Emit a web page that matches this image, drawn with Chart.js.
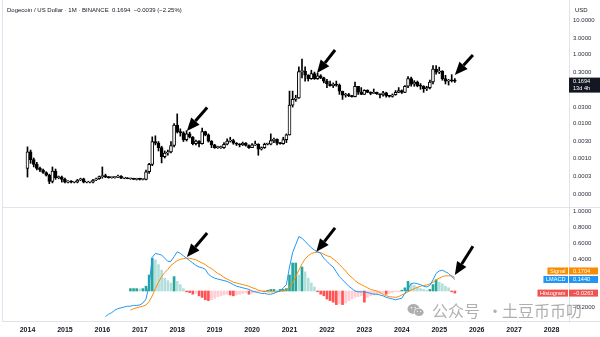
<!DOCTYPE html>
<html>
<head>
<meta charset="utf-8">
<title>Dogecoin / US Dollar 1M</title>
<script src="https://cdn.jsdelivr.net/npm/chart.js@4.4.1/dist/chart.umd.min.js"></script>
<style>
  html, body { margin: 0; padding: 0; background: #ffffff; }
  #wrap { position: relative; width: 600px; height: 337px; overflow: hidden; }
  #priceChart { position: absolute; left: 0; top: 0; }
  #macdChart { position: absolute; left: 0; top: 208px; }
  .txt { position: absolute; font-family: 'Liberation Sans', Arial, sans-serif; color: #131722; white-space: pre; }
  #title { left: 7px; top: 7px; font-size: 6px; line-height: 6px; }
  #usd { left: 575px; top: 7px; font-size: 6px; line-height: 6px; }
  .wm { position: absolute; font-family: 'Noto Sans CJK SC', sans-serif; font-size: 16px; line-height: 16px; color: rgba(110, 110, 110, 0.55); white-space: pre; }
  #wechat { position: absolute; left: 407px; top: 303px; }
</style>
</head>
<body>
<div id="wrap">
  <canvas id="priceChart" width="600" height="208"></canvas>
  <canvas id="macdChart" width="600" height="129"></canvas>
  <div id="title" class="txt"></div>
  <div id="usd" class="txt">USD</div>
  <svg id="wechat" width="18" height="15" viewBox="0 0 18 15">
    <ellipse cx="6.5" cy="6" rx="6" ry="5" fill="rgba(110,110,110,0.55)"/>
    <ellipse cx="12" cy="9.2" rx="5.2" ry="4.3" fill="#ffffff"/>
    <ellipse cx="12" cy="9.2" rx="4.6" ry="3.8" fill="rgba(110,110,110,0.55)"/>
    <circle cx="4.5" cy="4.8" r="0.8" fill="#fff"/>
    <circle cx="8.3" cy="4.8" r="0.8" fill="#fff"/>
    <circle cx="10.5" cy="8.5" r="0.6" fill="#fff"/>
    <circle cx="13.6" cy="8.5" r="0.6" fill="#fff"/>
  </svg>
  <div class="wm" style="left:432px; top:302px;">公众号</div>
  <div class="wm" style="left:487px; top:302px;">·</div>
  <div class="wm" style="left:502px; top:302px;">土豆币币叨</div>
</div>

<script>
// monthly candles, index 0 = Jan 2014
const yearLabels = ['2014', '2015', '2016', '2017', '2018', '2019', '2020', '2021',
                    '2022', '2023', '2024', '2025', '2026', '2027', '2028'];

const opens = [
  .0005, .0015, .0009, .00065, .0005, .00045, .00038, .00032, .00021, .00042, .00027, .00028,
  .00024, .0002, .00021, .0002, .0002, .00023, .00025, .0002, .0002, .0002, .00023, .00025,
  .00029, .00031, .00028, .00027, .00027, .00028, .0003, .00026, .00026, .00025, .00025, .00024,
  .00025, .00024, .00024, .0004, .00065, .003, .0027, .002, .0011, .0014, .0015, .0023,
  .009, .0058, .0054, .0034, .005, .004, .0026, .0031, .0026, .0058, .0047, .0031,
  .0024, .002, .002, .002, .0025, .0031, .0032, .0027, .0025, .0024, .0027, .0023,
  .002, .0024, .0025, .0018, .002, .0025, .0025, .0032, .0035, .0027, .0026, .0034,
  .0047, .034, .05, .055, .32, .33, .25, .2, .28, .2, .24, .21,
  .17, .14, .125, .14, .13, .086, .066, .069, .063, .06, .12, .081,
  .07, .091, .08, .075, .08, .072, .067, .078, .063, .061, .068, .08,
  .09, .08, .12, .2, .137, .16, .124, .12, .1, .11, .16, .38,
  .31, .33, .2, .17, .18, .1733
];
const highs = [
  .0021, .0017, .001, .00075, .00055, .00048, .0004, .00034, .00055, .00048, .0003, .0003,
  .00026, .00022, .00022, .00021, .00024, .00026, .00026, .00021, .00021, .00024, .00026, .0003,
  .00055, .00034, .00029, .00028, .00029, .00032, .00031, .00027, .00027, .00026, .00026, .00026,
  .00026, .00025, .00045, .0007, .0041, .0044, .003, .0022, .0016, .0017, .003, .01,
  .019, .007, .0058, .0062, .0056, .0042, .0033, .0032, .0074, .006, .005, .0032,
  .0025, .0022, .0022, .0028, .0036, .004, .0035, .0028, .0026, .0029, .0028, .0024,
  .0026, .0031, .0026, .0021, .0027, .0027, .005, .0038, .0036, .0028, .004, .005,
  .087, .087, .066, .44, .74, .44, .26, .35, .31, .29, .26, .22,
  .19, .17, .15, .17, .14, .087, .075, .075, .065, .16, .12, .11,
  .095, .095, .083, .1, .082, .073, .085, .081, .065, .072, .09, .11,
  .094, .125, .23, .22, .175, .17, .144, .125, .12, .18, .48, .48,
  .43, .34, .25, .19, .26, .2
];
const lows = [
  .00028, .0007, .00055, .00045, .0004, .00036, .0003, .00018, .00019, .00024, .00025, .0002,
  .00019, .00019, .00019, .00019, .00019, .00022, .00019, .00019, .00019, .00019, .00022, .00024,
  .00026, .00027, .00026, .00026, .00026, .00027, .00025, .00025, .00025, .00024, .00024, .00023,
  .00023, .00023, .00023, .00036, .0006, .0024, .0016, .00072, .001, .0012, .0014, .0021,
  .0053, .0043, .003, .0031, .0038, .0024, .0024, .0021, .0025, .0044, .0029, .002,
  .0019, .0019, .0019, .0019, .0024, .0029, .0025, .0023, .0021, .0023, .0022, .0019,
  .002, .0023, .0012, .0017, .0019, .0024, .0024, .0028, .0024, .0025, .0025, .0028,
  .0046, .03, .044, .053, .21, .17, .17, .19, .19, .19, .2, .15,
  .11, .12, .11, .12, .07, .05, .058, .06, .058, .059, .07, .069,
  .069, .078, .068, .074, .07, .055, .062, .058, .058, .058, .066, .078,
  .074, .078, .11, .12, .12, .116, .098, .08, .09, .1, .14, .27,
  .28, .18, .14, .13, .16, .155
];
const closes = [
  .0015, .0009, .00065, .0005, .00045, .00038, .00032, .00021, .00042, .00027, .00028, .00024,
  .0002, .00021, .0002, .0002, .00023, .00025, .0002, .0002, .0002, .00023, .00025, .00029,
  .00031, .00028, .00027, .00027, .00028, .0003, .00026, .00026, .00025, .00025, .00024, .00025,
  .00024, .00024, .0004, .00065, .003, .0027, .002, .0011, .0014, .0015, .0023, .009,
  .0058, .0054, .0034, .005, .004, .0026, .0031, .0026, .0058, .0047, .0031, .0024,
  .002, .002, .002, .0025, .0031, .0032, .0027, .0025, .0024, .0027, .0023, .002,
  .0024, .0025, .0018, .002, .0025, .0025, .0032, .0035, .0027, .0026, .0034, .0047,
  .034, .05, .055, .32, .33, .25, .2, .28, .2, .24, .21, .17,
  .14, .125, .14, .13, .086, .066, .069, .063, .06, .12, .081, .07,
  .091, .08, .075, .08, .072, .067, .078, .063, .061, .068, .08, .09,
  .08, .12, .2, .137, .16, .124, .12, .1, .11, .16, .38, .31,
  .33, .2, .17, .18, .1733, .1694
];

// LMACD panel
const lmacdStart = 25;
const lmacd = [
  -0.32, -0.29, -0.27, -0.24, -0.22, -0.21, -0.20, -0.19, -0.19, -0.18,
  -0.18, -0.175, -0.15, -0.10, 0.08, 0.42, 0.47, 0.46, 0.45, 0.41,
  0.37, 0.37, 0.43, 0.49, 0.47, 0.44, 0.41, 0.38, 0.35, 0.32,
  0.30, 0.29, 0.27, 0.21, 0.18, 0.16, 0.15, 0.14, 0.13, 0.12,
  0.10, 0.08, 0.06, 0.05, 0.04, 0.03, 0.02, 0.0, -0.01, -0.02,
  -0.03, -0.03, -0.04, -0.04, -0.03, -0.01, 0.0, 0.04, 0.08, 0.30,
  0.48, 0.58, 0.68, 0.66, 0.62, 0.58, 0.54, 0.51, 0.49, 0.47,
  0.41, 0.37, 0.33, 0.30, 0.24, 0.18, 0.14, 0.10, 0.06, 0.03,
  0.0, -0.01, -0.01, -0.01, -0.02, -0.03, -0.04, -0.04, -0.05, -0.06,
  -0.08, -0.09, -0.10, -0.11, -0.10, -0.09, -0.03, 0.03, 0.09, 0.10,
  0.09, 0.08, 0.06, 0.05, 0.07, 0.14, 0.22, 0.25, 0.26, 0.24,
  0.22, 0.18, 0.144
];
const signalStart = 33;
const signalLine = [
  -0.24, -0.22, -0.21, -0.20, -0.19, -0.175, -0.13, -0.06, 0.03, 0.11,
  0.18, 0.23, 0.27, 0.32, 0.35, 0.38, 0.395, 0.405, 0.41, 0.41,
  0.40, 0.39, 0.37, 0.35, 0.33, 0.30, 0.28, 0.25, 0.22, 0.20,
  0.17, 0.15, 0.13, 0.11, 0.10, 0.09, 0.08, 0.07, 0.06, 0.04,
  0.03, 0.01, 0.0, -0.005, -0.01, -0.01, -0.01, -0.01, 0.0, 0.0,
  0.01, 0.05, 0.10, 0.18, 0.26, 0.34, 0.40, 0.44, 0.47, 0.48,
  0.485, 0.48, 0.46, 0.44, 0.43, 0.40, 0.37, 0.33, 0.29, 0.25,
  0.20, 0.17, 0.13, 0.10, 0.08, 0.06, 0.04, 0.02, 0.01, 0.0,
  -0.02, -0.04, -0.06, -0.07, -0.075, -0.08, -0.07, -0.05, -0.03, -0.01,
  0.01, 0.03, 0.045, 0.06, 0.07, 0.075, 0.09, 0.11, 0.14, 0.16,
  0.18, 0.19, 0.19, 0.19, 0.1704
];
const histogram = [
  0.03, 0.03, 0.03, 0.025, 0.03, 0.06, 0.20, 0.41, 0.39, 0.33,
  0.26, 0.16, 0.13, 0.10, 0.18, 0.12, 0.08, 0.03, -0.01, -0.02,
  -0.04, -0.03, -0.06, -0.08, -0.11, -0.12, -0.11, -0.09, -0.07, -0.06,
  -0.05, -0.04, -0.05, -0.06, -0.05, -0.04, -0.03, -0.02, -0.04, -0.03,
  -0.02, -0.01, -0.005, -0.01, 0.01, 0.02, 0.02, 0.01, 0.02, 0.02,
  0.03, 0.20, 0.35, 0.35, 0.20, 0.30, 0.24, 0.16, 0.10, 0.05,
  -0.01, -0.04, -0.06, -0.10, -0.12, -0.14, -0.17, -0.16, -0.17, -0.15,
  -0.12, -0.10, -0.08, -0.07, -0.06, -0.14, -0.08, -0.06, -0.05, -0.04,
  -0.03, -0.02, -0.04, -0.03, -0.02, -0.01, -0.01, 0.01, 0.04, 0.12,
  0.10, 0.07, 0.05, 0.03, 0.02, 0.01, 0.02, 0.08, 0.14, 0.11,
  0.09, 0.06, 0.04, -0.01, -0.0263
];

// axis ticks as printed on the right scale
const priceTicks = [10, 3, 1, 0.3, 0.03, 0.01, 0.003, 0.001, 0.0003, 0.00009];
const priceTickLabels = ['10.0000', '3.0000', '1.0000', '0.3000', '0.0300', '0.0100', '0.0030', '0.0010', '0.0003', '0.0000'];
const macdTicks = [1, 0.8, 0.6, 0.4, -0.2];
const barCountdown = '13d 4h';

// hand-drawn arrows: [tip month, tip value, tail month, tail value]
const priceArrows = [[51.1, 0.0061, 57.6, 0.029], [92.8, 0.29, 98.6, 1.35], [137, 0.255, 142.8, 0.97]];
const macdArrows = [[51.1, 0.425, 57.6, 0.725], [92.6, 0.49, 98.6, 0.79], [137, 0.2, 142.8, 0.56]];

const FRAME = '#e0e3eb';
const UP_FILL = '#ffffff', DOWN_FILL = '#000000';
const BLUE = '#2196f3', ORANGE = '#fb8c00', RED = '#ef5350';

Chart.defaults.font.family = "'Liberation Sans', Arial, sans-serif";
Chart.defaults.color = '#131722';
Chart.defaults.animation = false;

// title line
const lastClose = closes[closes.length - 1];
const prevClose = closes[closes.length - 2];
const diff = lastClose - prevClose;
const pct = diff / prevClose * 100;
const sgn = v => (v < 0 ? '\u2212' : '+');
document.getElementById('title').textContent =
  'Dogecoin / US Dollar \u00b7 1M \u00b7 BINANCE  ' + lastClose.toFixed(4) + '  ' +
  sgn(diff) + Math.abs(diff).toFixed(4) + ' (' + sgn(pct) + Math.abs(pct).toFixed(2) + '%)';

function xScale(show) {
  return {
    type: 'linear',
    min: -7.85,
    max: 173.6,
    offset: false,
    display: show,
    grid: { display: false, drawTicks: false },
    border: { display: false },
    afterBuildTicks: s => { s.ticks = yearLabels.map((_, k) => ({ value: k * 12 })); },
    // the hidden axis of the price pane must stay at zero height
    afterFit: s => { s.height = show ? 15 : 0; s.paddingLeft = 0; s.paddingRight = 0; },
    ticks: {
      autoSkip: false, maxRotation: 0, padding: 4,
      font: { size: 7, weight: 'bold' }, color: '#131722',
      callback: v => yearLabels[Math.round(v / 12)]
    }
  };
}

function rightAxis(extra) {
  return Object.assign({
    position: 'right',
    grid: { display: false, drawTicks: false },
    border: { display: true, color: FRAME },
    afterFit: s => { s.width = 31; s.paddingTop = 0; s.paddingBottom = 0; },
  }, extra);
}

function drawArrow(ctx, x0, y0, x1, y1) {
  const ang = Math.atan2(y1 - y0, x1 - x0);
  const headLen = 13, headW = 5.5;
  const bx = x1 - headLen * Math.cos(ang), by = y1 - headLen * Math.sin(ang);
  ctx.save();
  ctx.strokeStyle = '#000'; ctx.fillStyle = '#000';
  ctx.lineWidth = 3;
  ctx.beginPath(); ctx.moveTo(x0, y0); ctx.lineTo(bx, by); ctx.stroke();
  ctx.beginPath();
  ctx.moveTo(x1, y1);
  ctx.lineTo(bx + headW * Math.sin(ang), by - headW * Math.cos(ang));
  ctx.lineTo(bx - headW * Math.sin(ang), by + headW * Math.cos(ang));
  ctx.closePath(); ctx.fill();
  ctx.restore();
}

const framePlugin = {
  id: 'frame',
  beforeDraw(chart) {
    const { ctx, chartArea: a } = chart;
    ctx.save();
    ctx.strokeStyle = FRAME; ctx.lineWidth = 1;
    ctx.beginPath();
    ctx.moveTo(a.left - 0.5, 0); ctx.lineTo(a.left - 0.5, a.bottom);
    ctx.moveTo(a.left, a.bottom - 0.5); ctx.lineTo(600, a.bottom - 0.5);
    ctx.stroke();
    ctx.restore();
  }
};

const arrowPlugin = {
  id: 'arrows',
  afterDatasetsDraw(chart, args, opts) {
    const { ctx, scales } = chart;
    opts.list.forEach(([tx, tv, sx, sv]) => {
      drawArrow(ctx, scales.x.getPixelForValue(sx), scales.y.getPixelForValue(sv),
                scales.x.getPixelForValue(tx), scales.y.getPixelForValue(tv));
    });
  }
};

const lastPricePlugin = {
  id: 'lastPrice',
  afterDraw(chart) {
    const { ctx, scales } = chart;
    const y = scales.y.getPixelForValue(lastClose);
    ctx.save();
    ctx.fillStyle = '#131722';
    ctx.fillRect(569, y - 3.5, 31, 15);
    ctx.fillStyle = '#ffffff';
    ctx.font = "5.6px 'Liberation Sans', Arial, sans-serif";
    ctx.textBaseline = 'middle';
    ctx.fillText(lastClose.toFixed(4), 573, y + 0.3);
    ctx.fillText(barCountdown, 573, y + 7);
    ctx.restore();
  }
};

const macdLabelPlugin = {
  id: 'macdLabels',
  afterDraw(chart) {
    const { ctx, scales } = chart;
    const items = [
      { name: 'Signal', value: signalLine[signalLine.length - 1], color: ORANGE },
      { name: 'LMACD', value: lmacd[lmacd.length - 1], color: BLUE },
      { name: 'Histogram', value: histogram[histogram.length - 1], color: RED }
    ].map(it => Object.assign(it, { y: scales.y.getPixelForValue(it.value) }));
    items.sort((a, b) => a.y - b.y);
    for (let k = items.length - 2; k >= 0; k--) {
      if (items[k].y > items[k + 1].y - 8.5) items[k].y = items[k + 1].y - 8.5;
    }
    ctx.save();
    ctx.font = "5.6px 'Liberation Sans', Arial, sans-serif";
    ctx.textBaseline = 'middle';
    items.forEach(it => {
      const h = 7;
      const nameW = ctx.measureText(it.name).width + 5;
      ctx.fillStyle = it.color;
      ctx.fillRect(568 - nameW, it.y - h / 2, nameW, h);
      ctx.fillRect(569, it.y - h / 2, 29, h);
      ctx.fillStyle = '#ffffff';
      ctx.fillText(it.name, 568 - nameW + 2.5, it.y + 0.3);
      const txt = (it.value < 0 ? '\u2212' : '') + Math.abs(it.value).toFixed(4);
      ctx.fillText(txt, 573, it.y + 0.3);
    });
    ctx.restore();
  }
};

// price pane: wicks + candle bodies as floating bars on a log scale
new Chart(document.getElementById('priceChart'), {
  type: 'bar',
  data: {
    datasets: [
      {
        label: 'body',
        data: opens.map((o, i) => ({ x: i, y: [o, closes[i]] })),
        backgroundColor: ctx => (closes[ctx.dataIndex] >= opens[ctx.dataIndex] ? UP_FILL : DOWN_FILL),
        borderColor: '#000000',
        borderWidth: 1,
        borderSkipped: false,
        barThickness: 3,
        minBarLength: 1,
        grouped: false
      },
      {
        label: 'wick',
        data: lows.map((l, i) => ({ x: i, y: [l, highs[i]] })),
        backgroundColor: '#000000',
        barThickness: 1,
        grouped: false
      }
    ]
  },
  options: {
    responsive: false,
    devicePixelRatio: 1,
    layout: { padding: { left: 3, right: 0, top: 0, bottom: 0 } },
    plugins: { legend: { display: false }, tooltip: { enabled: false }, arrows: { list: priceArrows } },
    scales: {
      x: xScale(false),
      y: rightAxis({
        type: 'logarithmic',
        min: 3.554e-5,
        max: 37.99,
        afterBuildTicks: s => { s.ticks = priceTicks.map(v => ({ value: v })); },
        ticks: { autoSkip: false, padding: 4, font: { size: 6 }, color: '#2a2e39', callback: (v, i) => priceTickLabels[i] }
      })
    }
  },
  plugins: [framePlugin, arrowPlugin, lastPricePlugin]
});

// LMACD pane
function histColor(ctx) {
  const k = ctx.dataIndex;
  const v = histogram[k];
  const prev = k > 0 ? histogram[k - 1] : v;
  if (v >= 0) return v >= prev ? '#26a69a' : '#b2dfdb';
  return v < prev ? '#ff5252' : '#ffcdd2';
}

new Chart(document.getElementById('macdChart'), {
  type: 'bar',
  data: {
    datasets: [
      {
        type: 'line', label: 'LMACD',
        data: lmacd.map((v, k) => ({ x: lmacdStart + k, y: v })),
        borderColor: BLUE, borderWidth: 1, pointRadius: 0, tension: 0
      },
      {
        type: 'line', label: 'Signal',
        data: signalLine.map((v, k) => ({ x: signalStart + k, y: v })),
        borderColor: ORANGE, borderWidth: 1, pointRadius: 0, tension: 0
      },
      {
        type: 'bar', label: 'Histogram',
        data: histogram.map((v, k) => ({ x: signalStart + k, y: v })),
        backgroundColor: histColor,
        barThickness: 2,
        grouped: false
      }
    ]
  },
  options: {
    responsive: false,
    devicePixelRatio: 1,
    layout: { padding: { left: 3, right: 0, top: 0, bottom: 0 } },
    plugins: { legend: { display: false }, tooltip: { enabled: false }, arrows: { list: macdArrows } },
    scales: {
      x: xScale(true),
      y: rightAxis({
        type: 'linear',
        min: -0.3875,
        max: 1.0375,
        afterBuildTicks: s => { s.ticks = macdTicks.map(v => ({ value: v })); },
        ticks: {
          autoSkip: false, padding: 4, font: { size: 6 }, color: '#2a2e39',
          callback: v => (v < 0 ? '\u2212' : '') + Math.abs(v).toFixed(4)
        }
      })
    }
  },
  plugins: [framePlugin, arrowPlugin, macdLabelPlugin]
});
</script>
</body>
</html>
